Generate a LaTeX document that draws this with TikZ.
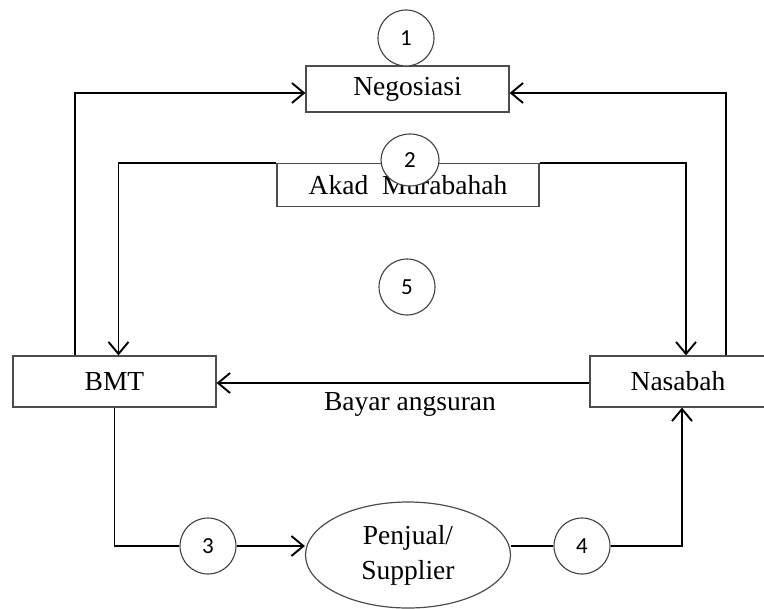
\documentclass[tikz,border=0pt]{standalone}
\usepackage{fontspec}
\setmainfont{Liberation Serif}
\newfontfamily\numfont{Carlito}
\usetikzlibrary{shapes,arrows.meta,positioning}

\begin{document}
\begin{tikzpicture}[
    x=0.5pt, y=-0.5pt,
    >={Straight Barb[length=6pt,width=10pt]},
    box/.style={rectangle, draw=black!70, line width=0.6pt, inner sep=0pt, align=center, font=\fontsize{13.75}{16.5}\selectfont},
    supp/.style={ellipse, draw=black!70, line width=0.6pt, inner sep=0pt, align=center, font=\fontsize{13.75}{17.5}\selectfont},
    num/.style={circle, draw=black!75, line width=0.55pt, fill=white, minimum size=28pt, inner sep=0pt, font=\numfont\fontsize{11.5}{13}\selectfont},
    flow/.style={line width=0.95pt},
  ]
    \useasboundingbox (0,0) rectangle (764,609);

    \node[box, minimum width=101.5pt, minimum height=23pt] (neg) at (407.5,89) {Negosiasi};
    \node[num] (n1) at (406,38) {1};

    \node[box, minimum width=131pt, minimum height=21.5pt] (akad) at (408,185) {\raisebox{-1.5pt}{Akad~ Murabahah}};
    \node[num, minimum height=26pt, minimum width=29pt, ellipse] (n2) at (410,160) {2};

    \node[num] (n5) at (407,287) {5};

    \node[box, minimum width=101.5pt, minimum height=25.5pt] (bmt) at (114.5,381.5) {BMT};
    \node[box, minimum width=96pt, minimum height=25.5pt] (nas) at (686,381.5) {\hspace*{-8pt}Nasabah};

    \node[supp, minimum width=102.5pt, minimum height=53pt] (penjual) at (408,555) {Penjual/\\Supplier};
    \node[num] (n3) at (208,546) {3};
    \node[num] (n4) at (582,546) {4};

    \node[font=\fontsize{13.75}{16.5}\selectfont] (bayar) at (410,404) {Bayar angsuran};

    \draw[flow, ->] ([xshift=31.5pt]bmt.north west) |- ([yshift=-2pt]neg.west);
    \draw[flow, ->] ([xshift=20pt]nas.north) |- ([yshift=-2pt]neg.east);
    \draw[flow, ->] (akad.north west) -| ([xshift=2pt]bmt.north);
    \draw[flow, ->] (akad.north east) -| (nas.north);
    \draw[flow, ->] (nas.west |- 0,383) -- (bmt.east |- 0,383);
    \draw[flow] (bmt.south) |- (n3.west);
    \draw[flow, ->] (n3.east) -- (n3.east -| penjual.west);
    \draw[flow] (n4.west -| penjual.east) -- (n4.west);
    \draw[flow, ->] (n4.east) -| ([xshift=-2pt]nas.south);
\end{tikzpicture}
\end{document}
